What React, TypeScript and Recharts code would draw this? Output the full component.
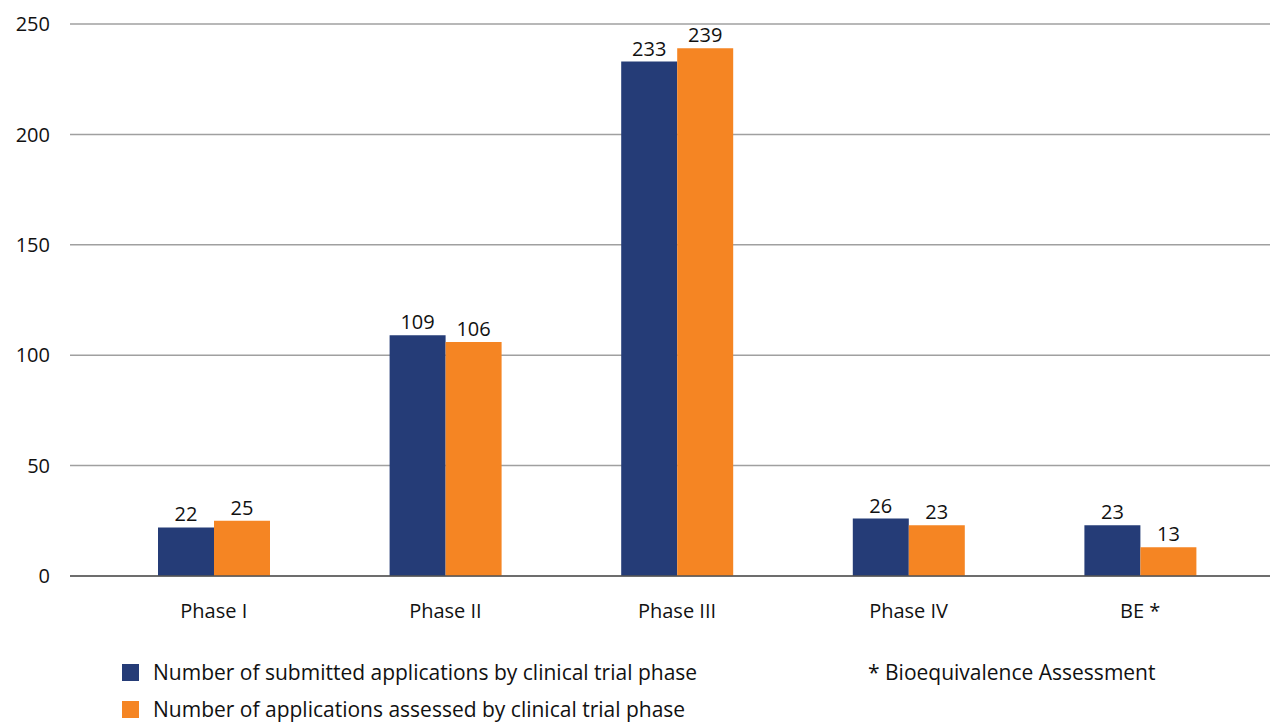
import { BarChart, Bar, XAxis, YAxis, CartesianGrid, LabelList } from 'recharts';

const phases = ['Phase I', 'Phase II', 'Phase III', 'Phase IV', 'BE *'];
const submitted = [22, 109, 233, 26, 23];
const assessed = [25, 106, 239, 23, 13];
const yTicks = [0, 50, 100, 150, 200, 250];

const BLUE = '#253c77';
const ORANGE = '#f58523';
const FONT = '"Open Sans", "Noto Sans", sans-serif';

const data = phases.map((phase, i) => ({
  phase,
  submitted: submitted[i],
  assessed: assessed[i],
}));

const legendItems = [
  { label: 'Number of submitted applications by clinical trial phase', color: BLUE },
  { label: 'Number of applications assessed by clinical trial phase', color: ORANGE },
];

// legend drawn as plain html under the plot so it doesn't eat chart height
function LegendBox() {
  return (
    <div style={{ position: 'absolute', left: 0, top: 658, width: 1270, height: 64, fontFamily: FONT, fontSize: 21, color: '#111' }}>
      {legendItems.map((item, i) => (
        <div
          key={item.label}
          style={{ position: 'absolute', left: 122, top: i * 37, height: 28, lineHeight: '28px', display: 'flex', alignItems: 'center', whiteSpace: 'nowrap' }}
        >
          <span style={{ display: 'inline-block', width: 17, height: 17, background: item.color, marginRight: 14 }} />
          {item.label}
        </div>
      ))}
      <div style={{ position: 'absolute', left: 868, top: 0, height: 28, lineHeight: '28px', whiteSpace: 'nowrap' }}>
        * Bioequivalence Assessment
      </div>
    </div>
  );
}

export default function App() {
  return (
    <div style={{ position: 'absolute', left: 0, top: 0, width: 1270, height: 722, background: '#fff', overflow: 'hidden' }}>
      <BarChart
        width={1270}
        height={722}
        data={data}
        margin={{ top: 24, right: 0, left: 0, bottom: 116 }}
        barGap={0}
        barSize={56}
      >
        <CartesianGrid vertical={false} stroke="#a0a0a0" strokeWidth={1.5} />
        <XAxis
          dataKey="phase"
          height={30}
          axisLine={{ stroke: '#555', strokeWidth: 1.5 }}
          tickLine={false}
          tickSize={0}
          tickMargin={28}
          padding={{ left: 28, right: 14 }}
          tick={{ fill: '#111', fontSize: 20, fontFamily: FONT }}
        />
        <YAxis
          width={70}
          domain={[0, 250]}
          ticks={yTicks}
          axisLine={false}
          tickLine={false}
          tickSize={0}
          tickMargin={20}
          tick={{ fill: '#111', fontSize: 20, fontFamily: FONT }}
        />
        <Bar dataKey="submitted" fill={BLUE} isAnimationActive={false}>
          <LabelList dataKey="submitted" position="top" offset={6} fill="#111" fontSize={20} fontFamily={FONT} />
        </Bar>
        <Bar dataKey="assessed" fill={ORANGE} isAnimationActive={false}>
          <LabelList dataKey="assessed" position="top" offset={6} fill="#111" fontSize={20} fontFamily={FONT} />
        </Bar>
      </BarChart>
      <LegendBox />
    </div>
  );
}
